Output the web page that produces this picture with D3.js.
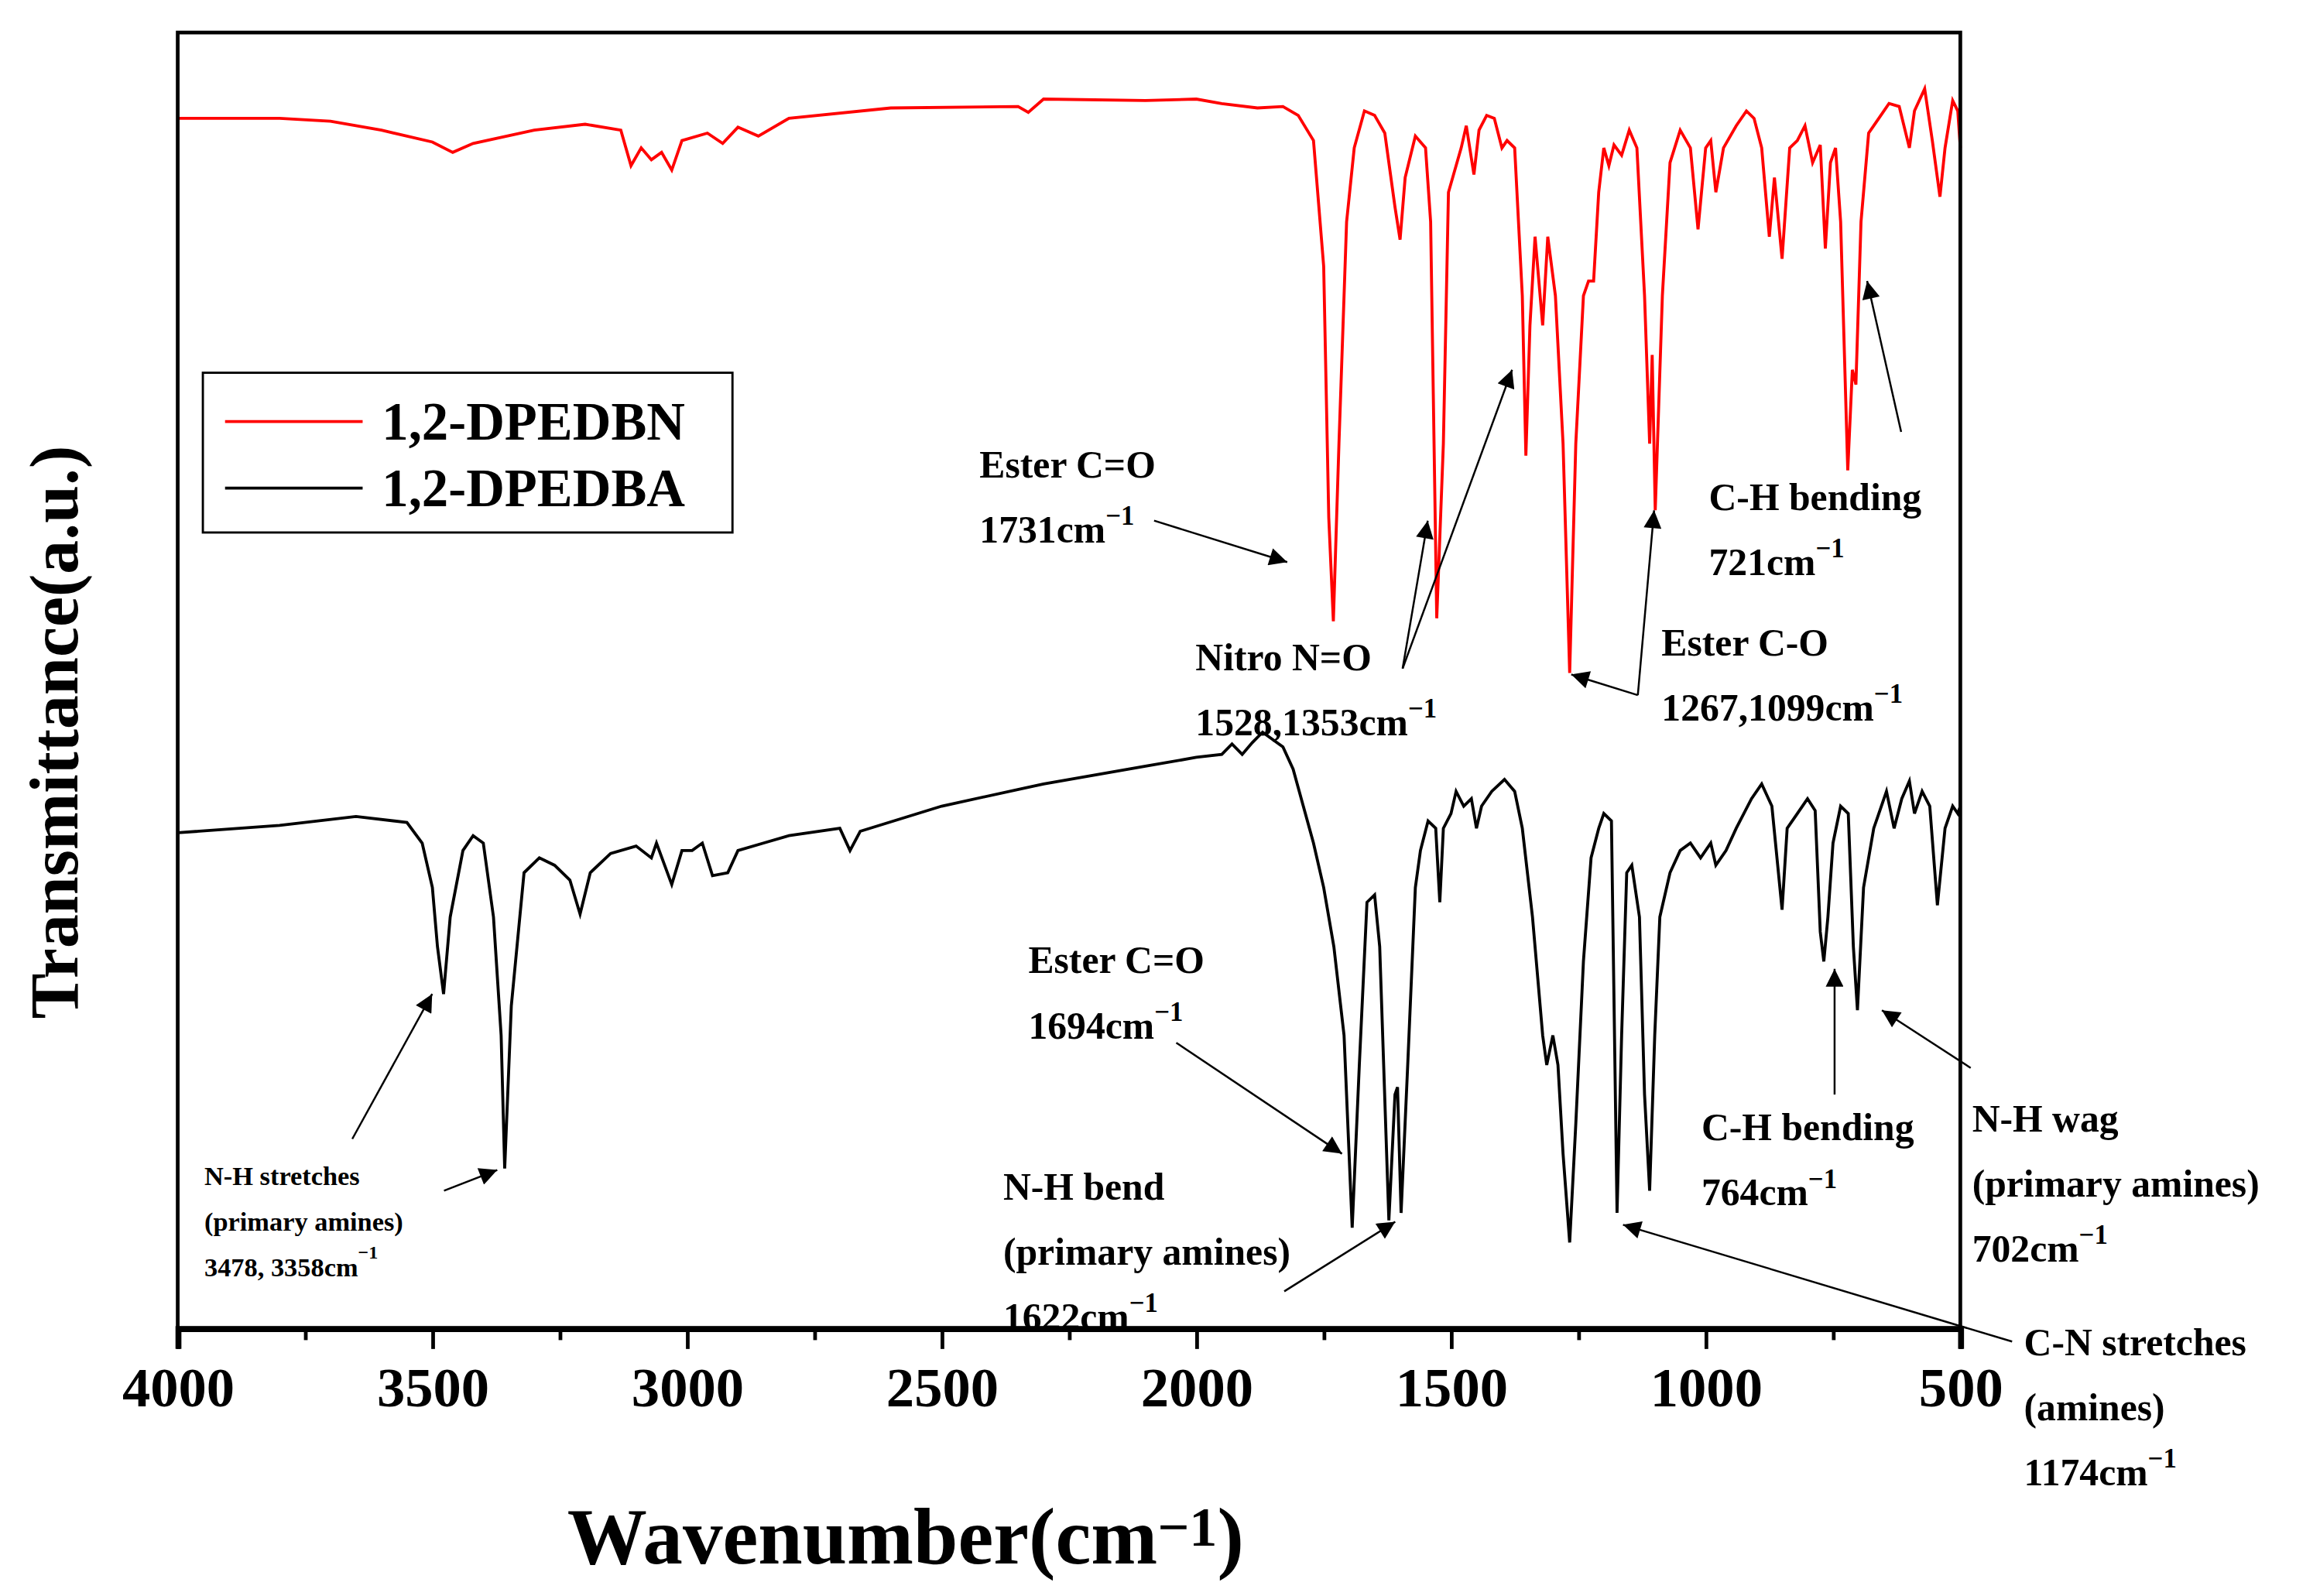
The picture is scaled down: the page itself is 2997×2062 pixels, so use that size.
<!DOCTYPE html>
<html><head><meta charset="utf-8">
<script src="https://cdn.jsdelivr.net/npm/d3@7"></script>
<style>body{margin:0;background:#fff}svg{display:block}text{font-family:"Liberation Serif",serif;font-weight:bold}</style>
</head><body>
<script>
// transmittance in a.u. (0 = bottom of frame), wavenumbers in cm-1
const dpedbnWn = [4000,3800,3700,3600,3500,3460,3420,3300,3200,3130,3110,3090,3070,3050,3030,3010,2960,2930,2900,2860,2800,2600,2350,2330,2300,2100,2000,1950,1880,1830,1800,1770,1750,1740,1731,1720,1705,1690,1670,1650,1630,1610,1600,1590,1570,1550,1540,1528,1515,1505,1495,1480,1470,1455,1445,1430,1415,1400,1390,1375,1360,1353,1345,1335,1320,1310,1295,1280,1267,1255,1240,1230,1220,1210,1200,1190,1180,1165,1150,1135,1120,1110,1105,1099,1085,1070,1050,1030,1015,1000,990,980,965,940,920,905,890,875,865,850,835,820,805,790,775,765,755,745,735,721,712,705,695,680,660,640,620,600,590,570,555,540,530,515,505,500];
const dpedbnT  = [818,818,816,810,802,795,801,810,814,810,786,798,790,795,783,803,808,801,812,806,818,825,826,822,831,830,831,828,825,826,820,803,718,548,478,598,748,798,823,820,808,758,736,778,806,798,748,480,598,768,780,798,813,780,810,820,818,798,803,798,698,590,678,738,678,738,698,598,443,598,698,708,708,768,798,786,800,793,810,798,698,598,658,553,698,788,810,798,743,798,803,768,798,813,823,818,798,738,778,723,798,803,813,788,800,730,788,798,748,580,648,638,748,808,818,828,826,798,823,838,803,765,798,830,823,798];
const dpedbaWn = [4000,3800,3650,3550,3520,3500,3490,3478,3465,3440,3420,3400,3380,3365,3358,3345,3320,3290,3260,3230,3210,3190,3150,3100,3070,3060,3030,3010,2990,2970,2950,2920,2900,2850,2800,2700,2680,2660,2500,2300,2100,2000,1950,1930,1910,1890,1870,1850,1830,1810,1790,1770,1750,1730,1710,1694,1680,1665,1650,1640,1622,1610,1605,1598,1585,1570,1560,1545,1530,1522,1515,1500,1490,1475,1460,1450,1440,1420,1395,1375,1360,1340,1320,1312,1300,1290,1280,1267,1255,1240,1225,1210,1200,1185,1174,1165,1155,1145,1130,1120,1110,1100,1090,1070,1050,1030,1010,990,980,960,940,910,890,870,850,840,820,800,785,775,768,760,750,735,720,710,702,690,670,660,645,630,615,600,590,575,560,545,530,515,505,500];
const dpedbaT  = [335,340,346,342,328,298,258,226,278,323,333,328,278,198,108,218,308,318,313,303,280,308,321,326,318,328,300,323,323,328,306,308,323,328,333,338,323,336,353,368,380,386,388,395,388,396,403,398,393,378,353,328,298,258,198,68,178,288,293,258,73,158,163,78,178,298,323,343,338,288,338,348,363,353,358,338,353,363,371,363,338,278,198,178,198,178,118,58,138,248,318,338,348,343,78,198,308,313,278,158,93,198,278,308,323,328,318,328,313,323,338,358,368,353,283,338,348,358,350,268,248,278,328,353,348,258,215,298,338,348,363,338,358,370,348,363,353,286,338,353,348,353];
const xTicks = [4000,3500,3000,2500,2000,1500,1000,500];
const seriesNames = ["1,2-DPEDBN","1,2-DPEDBA"];
const seriesColors = ["#ff0000","#000000"];
// annotation labels: lines of text (sup marks the cm-1 exponent)
const notes = [
  {x:662,y:323,lines:["Ester C=O","1731cm|-1"],fs:26,arrows:[[780,352,870,380]]},
  {x:808,y:453,lines:["Nitro N=O","1528,1353cm|-1"],fs:26,arrows:[[948,452,965,352],[948,452,1022,250]]},
  {x:1123,y:443,lines:["Ester C-O","1267,1099cm|-1"],fs:26,arrows:[[1107,470,1062,456],[1107,470,1118,345]]},
  {x:1155,y:345,lines:["C-H bending","721cm|-1"],fs:26,arrows:[[1285,292,1262,190]]},
  {x:695,y:658,lines:["Ester C=O","1694cm|-1"],fs:26,arrows:[[795,705,907,780]]},
  {x:678,y:811,lines:["N-H bend","(primary amines)","1622cm|-1"],fs:26,arrows:[[868,873,943,826]]},
  {x:1150,y:771,lines:["C-H bending","764cm|-1"],fs:26,arrows:[[1240,740,1240,655]]},
  {x:1333,y:765,lines:["N-H wag","(primary amines)","702cm|-1"],fs:26,arrows:[[1332,722,1272,683]]},
  {x:1368,y:916,lines:["C-N stretches","(amines)","1174cm|-1"],fs:26,arrows:[[1360,907,1097,828]]},
  {x:138,y:801,lines:["N-H stretches","(primary amines)","3478, 3358cm|-1"],fs:18,lh:31,arrows:[[238,770,292,672],[300,805,336,791]]}
];

const W = 1568, H = 1079;
const svg = d3.select("body").append("svg")
  .attr("width", 2997).attr("height", 2062)
  .attr("viewBox", `0 0 ${W} ${H}`);
const m = {l:120, r:1325, t:22, b:898};
const x = d3.scaleLinear().domain([4000,500]).range([m.l, m.r]);
const y = d3.scaleLinear().domain([0,876]).range([m.b, m.t]);

svg.append("defs").append("marker").attr("id","ah")
  .attr("viewBox","0 0 10 10").attr("refX",10).attr("refY",5)
  .attr("markerWidth",9).attr("markerHeight",7).attr("markerUnits","userSpaceOnUse")
  .attr("orient","auto")
  .append("path").attr("d","M0,0 L10,5 L0,10 z").attr("fill","#000");
svg.select("marker").attr("markerWidth",20).attr("markerHeight",12);

const line = d3.line().x(d => x(d[0])).y(d => y(d[1]));
[[dpedbnWn,dpedbnT],[dpedbaWn,dpedbaT]].forEach((s,i) => {
  svg.append("path").datum(d3.zip(s[0], s[1]))
    .attr("d", line).attr("fill","none")
    .attr("stroke", seriesColors[i]).attr("stroke-width",2);
});

// frame
svg.append("rect").attr("x",m.l).attr("y",m.t).attr("width",m.r-m.l).attr("height",m.b-m.t)
  .attr("fill","none").attr("stroke","#000").attr("stroke-width",2.5);

const xAxis = svg.append("g").attr("transform",`translate(0,${m.b})`)
  .call(d3.axisBottom(x).tickValues(xTicks).tickSize(14).tickPadding(12).tickFormat(d3.format("d")));
xAxis.select(".domain").attr("stroke-width",4);
xAxis.selectAll(".tick line").attr("stroke-width",2.5);
xAxis.selectAll("text").attr("font-size",38).attr("font-family","Liberation Serif").attr("font-weight","bold").attr("fill","#000");
svg.append("g").attr("transform",`translate(0,${m.b})`)
  .call(d3.axisBottom(x).tickValues(d3.range(3750,500,-500)).tickSize(8).tickFormat(""))
  .call(g => { g.select(".domain").remove(); g.selectAll("line").attr("stroke-width",2.5); });

function writeLine(t, str) {
  const parts = str.split("|");
  t.append("tspan").text(parts[0]);
  if (parts[1]) t.append("tspan").attr("dy",-12).attr("font-size","0.7em").text(parts[1].replace("-","\u2212"));
}

notes.forEach(n => {
  const lh = n.lh || 44;
  n.lines.forEach((l,i) => {
    const t = svg.append("text").attr("x",n.x).attr("y",n.y + i*lh).attr("font-size",n.fs);
    writeLine(t, l);
  });
  n.arrows.forEach(a => {
    svg.append("line").attr("x1",a[0]).attr("y1",a[1]).attr("x2",a[2]).attr("y2",a[3])
      .attr("stroke","#000").attr("stroke-width",1.3).attr("marker-end","url(#ah)");
  });
});

// legend
const lg = svg.append("g");
lg.append("rect").attr("x",137).attr("y",252).attr("width",358).attr("height",108)
  .attr("fill","#fff").attr("stroke","#000").attr("stroke-width",1.5);
seriesNames.forEach((s,i) => {
  const yy = 285 + i*45;
  lg.append("line").attr("x1",152).attr("x2",245).attr("y1",yy).attr("y2",yy)
    .attr("stroke",seriesColors[i]).attr("stroke-width",2);
  lg.append("text").attr("x",258).attr("y",yy+12).attr("font-size",36).text(s);
});

// axis titles
const xt = svg.append("text").attr("x",612).attr("y",1057).attr("text-anchor","middle").attr("font-size",54);
writeLine(xt, "Wavenumber(cm|-1");
xt.append("tspan").attr("dy",12).text(")");
svg.append("text").attr("transform","translate(52,495) rotate(-90)").attr("text-anchor","middle")
  .attr("font-size",46).text("Transmittance(a.u.)");
</script>
</body></html>
